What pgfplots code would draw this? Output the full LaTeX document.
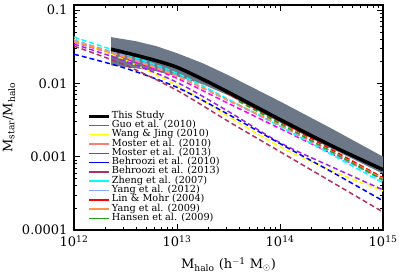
\documentclass[border=0pt]{standalone}
\usepackage{fontspec}
\setmainfont{DejaVu Serif}
\usepackage{pgfplots}
\pgfplotsset{compat=1.18}
\newcommand{\ticfont}{\fontsize{13}{15}\selectfont}
\newcommand{\legfont}{\fontsize{9.7}{9.3}\selectfont}
\definecolor{bandc}{RGB}{108,120,136}
\definecolor{guoc}{RGB}{255,0,255}
\definecolor{wangc}{RGB}{255,255,0}
\definecolor{mos10c}{RGB}{245,128,120}
\definecolor{mos13c}{RGB}{160,32,240}
\definecolor{beh10c}{RGB}{0,0,255}
\definecolor{beh13c}{RGB}{176,48,96}
\definecolor{zhengc}{RGB}{0,255,255}
\definecolor{yang12c}{RGB}{135,170,255}
\definecolor{linc}{RGB}{255,0,0}
\definecolor{yang09c}{RGB}{255,150,80}
\definecolor{hanc}{RGB}{34,160,34}
\begin{document}
\begin{tikzpicture}
\useasboundingbox (-74pt,-44pt) rectangle (325pt,230pt);
\begin{axis}[
  at={(0pt,0pt)}, anchor=south west,
  scale only axis, width=309pt, height=225pt,
  xmode=log, ymode=log,
  xmin=1e12, xmax=1e15, ymin=1e-4, ymax=0.117,
  xtick={1e12,1e13,1e14,1e15},
  xticklabels={10\textsuperscript{12},10\textsuperscript{13},10\textsuperscript{14},10\textsuperscript{15}},
  ytick={1e-4,1e-3,1e-2,1e-1},
  yticklabels={0.0001,0.001,0.01,0.1},
  tick align=inside, major tick length=6pt, minor tick length=3pt,
  axis line style={line width=1.1pt},
  every tick/.style={black, line width=0.8pt},
  tick label style={font=\ticfont},
  xticklabel style={yshift=-2pt},
  yticklabel style={xshift=-3pt},
  xlabel={M\textsubscript{halo} (h\textsuperscript{$-$1} M\textsubscript{$\odot$})},
  ylabel={M\textsubscript{star}/M\textsubscript{halo}},
  label style={font=\ticfont},
  xlabel style={at={(axis description cs:0.5,-0.155)}, anchor=center},
  ylabel style={at={(axis description cs:-0.21,0.5)}, anchor=center},
  legend cell align=left,
  legend image code/.code={\draw[#1,solid] (0pt,0pt) -- (20pt,0pt);},
  legend style={draw=none, fill=none, font=\legfont, inner sep=0pt, outer sep=0pt,
    at={(axis description cs:0.045,0.527)}, anchor=north west, row sep=0pt,
    nodes={inner xsep=1pt, inner ysep=0pt, text height=6.7pt, text depth=2.6pt}},
  dashl/.style={line width=1.5pt, dash pattern=on 5pt off 3pt, smooth},
]
% uncertainty band
\addplot[fill=bandc, draw=none, forget plot] coordinates {
 (2.29e12,0.04267) (3.98e12,0.03761) (6.31e12,0.03212) (1e13,0.02576) (1.778e13,0.01879)
 (3.162e13,0.01287) (1e14,0.00567) (3.162e14,0.00242) (1e15,0.00100)
 (1e15,0.000585) (3.162e14,0.00129) (1e14,0.00292) (3.162e13,0.00685) (1.778e13,0.00969)
 (1e13,0.01247) (6.31e12,0.01460) (3.98e12,0.01605) (2.29e12,0.01764)} -- cycle;
\addlegendimage{black, line width=3pt}
\addlegendentry{This Study}
% Guo
\addplot[guoc, dashl] coordinates {(1e12,0.03644) (3.162e12,0.02200) (1e13,0.01171) (3.162e13,0.00532) (1e14,0.00242) (3.162e14,0.00110) (1e15,0.000500)};
\addlegendentry{Guo et al. (2010)}
% Wang & Jing
\addplot[wangc, dashl] coordinates {(1e12,0.04006) (3.162e12,0.02065) (1e13,0.00939) (3.162e13,0.00353) (1e14,0.00137) (3.162e14,0.000643) (1e15,0.000342)};
\addlegendentry{Wang \& Jing (2010)}
% Moster 2010
\addplot[mos10c, dashl] coordinates {(1e12,0.03644) (3.162e12,0.02270) (1e13,0.01247) (3.162e13,0.00585) (1e14,0.00266) (3.162e14,0.00117) (1e15,0.000516)};
\addlegendentry{Moster et al. (2010)}
% Moster 2013
\addplot[mos13c, dashl] coordinates {(1e12,0.03421) (3.162e12,0.02001) (1e13,0.01032) (3.162e13,0.00413) (1e14,0.00155) (3.162e14,0.000729) (1e15,0.000353)};
\addlegendentry{Moster et al. (2013)}
% Behroozi 2010
\addplot[beh10c, dashl] coordinates {(1e12,0.02496) (3.162e12,0.01605) (1e13,0.00882) (3.162e13,0.003762) (1e14,0.001507) (3.162e14,0.000623) (1e15,0.000250)};
\addlegendentry{Behroozi et al. (2010)}
% Behroozi 2013
\addplot[beh13c, dashl] coordinates {(1e12,0.03212) (3.162e12,0.01764) (1e13,0.00802) (3.162e13,0.00302) (1e14,0.00117) (3.162e14,0.000454) (1e15,0.000176)};
\addlegendentry{Behroozi et al. (2013)}
% Zheng
\addplot[zhengc, dashl] coordinates {(1e12,0.04267) (3.162e12,0.02496) (1e13,0.01371) (3.162e13,0.00604) (1e14,0.00258) (3.162e14,0.00107) (1e15,0.000440)};
\addlegendentry{Zheng et al. (2007)}
% Yang 2012
\addplot[yang12c, dashl] coordinates {(1e12,0.03882) (3.162e12,0.02343) (1e13,0.01287) (3.162e13,0.00585) (1e14,0.00266) (3.162e14,0.00113) (1e15,0.000469)};
\addlegendentry{Yang et al. (2012)}
% Lin & Mohr
\addplot[linc, dashl] coordinates {(2.95e13,0.00753) (1e14,0.00302) (3.162e14,0.00125) (1e15,0.000516)};
\addlegendentry{Lin \& Mohr (2004)}
% Yang 2009
\addplot[yang09c, dashl] coordinates {(1e12,0.03761) (3.162e12,0.02270) (1e13,0.01247) (3.162e13,0.00585) (1e14,0.00274) (3.162e14,0.00117) (1e15,0.000500)};
\addlegendentry{Yang et al. (2009)}
% Hansen
\addplot[hanc, dashl] coordinates {(3.98e13,0.00567) (1e14,0.00283) (3.162e14,0.00117) (1e15,0.000484)};
\addlegendentry{Hansen et al. (2009)}
% This study
\addplot[black, line width=3.5pt, smooth, forget plot] coordinates {
 (2.29e12,0.02922) (3.98e12,0.02418) (6.31e12,0.02033) (1e13,0.01656) (1.778e13,0.01134)
 (3.162e13,0.00753) (1e14,0.00321) (3.162e14,0.00141) (1e15,0.000664)};
\end{axis}
\end{tikzpicture}
\end{document}
